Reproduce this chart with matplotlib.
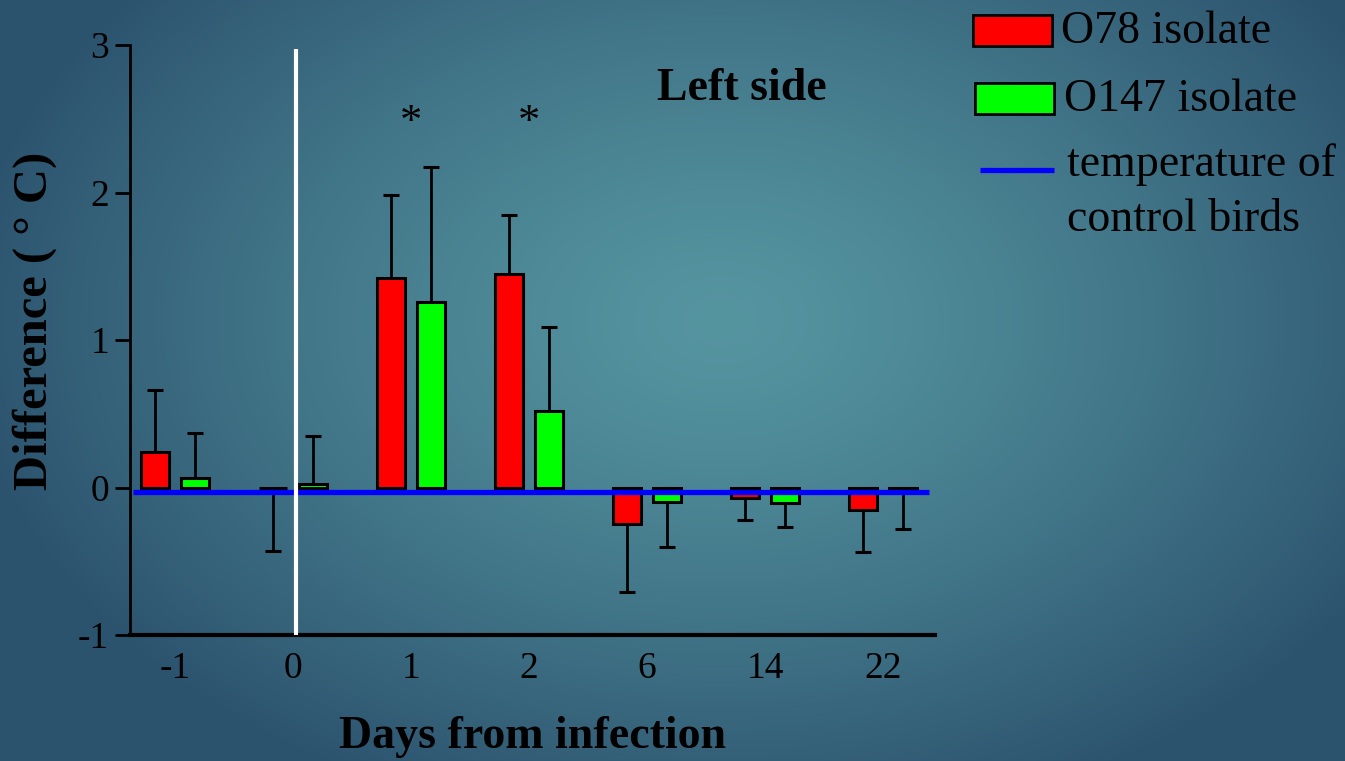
import numpy as np
import matplotlib
matplotlib.use("Agg")
import matplotlib.pyplot as plt
from matplotlib.patches import Rectangle
from matplotlib.lines import Line2D

days = ["-1", "0", "1", "2", "6", "14", "22"]
o78_vals = [0.24, 0.0, 1.42, 1.45, -0.25, -0.07, -0.155]
o78_errs = [0.42, 0.43, 0.56, 0.40, 0.46, 0.15, 0.285]
o147_vals = [0.065, 0.025, 1.26, 0.52, -0.10, -0.105, -0.01]
o147_errs = [0.305, 0.325, 0.91, 0.57, 0.30, 0.165, 0.27]
control_level = -0.03
yticks = [-1, 0, 1, 2, 3]
signif_days = ["1", "2"]

plt.rcParams['font.family'] = ['Liberation Serif', 'DejaVu Serif']

W, H = 1345, 761
fig = plt.figure(figsize=(W / 100, H / 100), dpi=100)

# background gradient
bg = fig.add_axes([0, 0, 1, 1], zorder=0)
yy, xx = np.mgrid[0:H, 0:W]
t = np.sqrt(((xx - 720) / 760.0) ** 2 + ((yy - 320) / 520.0) ** 2)
t = np.clip(t, 0, 1) ** 1.3
c_center = np.array([0x55, 0x95, 0xa0]) / 255
c_edge = np.array([0x2c, 0x53, 0x6e]) / 255
img = c_center[None, None, :] * (1 - t[..., None]) + c_edge[None, None, :] * t[..., None]
bg.imshow(img, extent=[0, W, H, 0], aspect='auto', interpolation='bilinear')
bg.set_xlim(0, W)
bg.set_ylim(H, 0)
bg.axis('off')

# legend (in pixel coordinates of the overlay)
bg.add_patch(Rectangle((973, 15), 79, 31, facecolor='#ff0000', edgecolor='black', lw=2))
bg.add_patch(Rectangle((975, 83), 79, 31, facecolor='#00ff00', edgecolor='black', lw=2))
bg.add_line(Line2D([980, 1054], [170, 170], color='#0000ff', lw=3.8, solid_capstyle='butt'))
leg_fs = 33
bg.text(1061, 32, "O78 isolate", fontsize=leg_fs, va='center', ha='left')
bg.text(1064, 100, "O147 isolate", fontsize=leg_fs, va='center', ha='left')
bg.text(1067, 165, "temperature of", fontsize=leg_fs, va='center', ha='left')
bg.text(1067, 220, "control birds", fontsize=leg_fs, va='center', ha='left')

# axis titles
bg.text(533, 737, "Days from infection", fontsize=33, fontweight='bold', ha='center', va='center')
bg.text(35, 321, "Difference ( ° C)", fontsize=35, fontweight='bold', ha='center', va='center',
        rotation=90)

ax = fig.add_axes([130 / W, 1 - 635 / H, 805 / W, 590 / H], zorder=1)
ax.patch.set_alpha(0)
x = np.arange(len(days))
off, bw = 0.17, 0.24

def draw(vals, errs, pos, color):
    ax.bar(pos, vals, width=bw, color=color, edgecolor='black', linewidth=2.2, zorder=3)
    signed = [e if v > 0 else -e for v, e in zip(vals, errs)]
    for p, v, s in zip(pos, vals, signed):
        ax.plot([p, p], [v, v + s], color='black', lw=2, zorder=2)
        ax.plot([p - 0.07, p + 0.07], [v + s, v + s], color='black', lw=2.2, zorder=2,
                solid_capstyle='butt')

draw(o78_vals, o78_errs, x - off, '#ff0000')
draw(o147_vals, o147_errs, x + off, '#00ff00')

ax.plot([-0.355, 6.39], [control_level, control_level], color='#0000ff', lw=3.8, zorder=4,
        solid_capstyle='butt')
ax.plot([1.03, 1.03], [-1, 2.97], color='white', lw=3, zorder=5, solid_capstyle='butt')

for d in signif_days:
    i = days.index(d)
    ax.text(i, 2.47, "*", fontsize=32, ha='center', va='center')

ax.text(4.8, 2.7, "Left side", fontsize=33, fontweight='bold', ha='center', va='center')

ax.set_xlim(-0.38, 6.44)
ax.set_ylim(-1, 3)
ax.set_xticks(x)
ax.set_xticklabels(days, fontsize=27)
ax.set_yticks(yticks)
ax.set_yticklabels([str(v) for v in yticks], fontsize=27)
ax.tick_params(axis='x', length=0, pad=12)
ax.tick_params(axis='y', length=11, width=2, pad=4)
for s in ['top', 'right']:
    ax.spines[s].set_visible(False)
ax.spines['left'].set_linewidth(2)
ax.spines['bottom'].set_linewidth(3)

fig.savefig("out.png", dpi=100)
